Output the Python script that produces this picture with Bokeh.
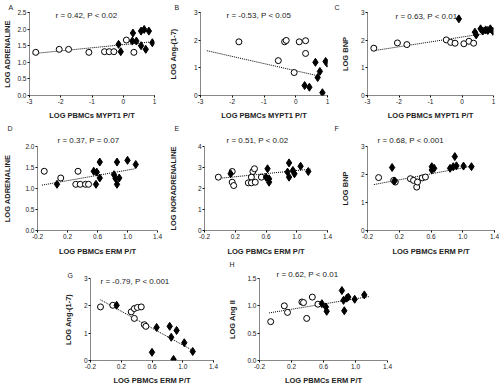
from bokeh.plotting import figure
from bokeh.layouts import row, column, Spacer
from bokeh.models import Range1d, FixedTicker, PrintfTickFormatter, Label, Title
from bokeh.embed import file_html
from bokeh.resources import INLINE

# ---------------- data ----------------
mypt_ticks = [-3, -2, -1, 0, 1]
erm_ticks = [-0.2, 0.2, 0.6, 1.0, 1.4]

a_open_x = [-2.8, -2.05, -1.75, -1.1, -0.6, -0.45, -0.3, 0.34, 0.1]
a_open_y = [1.30, 1.39, 1.39, 1.30, 1.32, 1.32, 1.32, 1.30, 1.67]
a_fill_x = [-0.15, -0.08, 0.31, 0.29, 0.42, 0.57, 0.67, 0.82, 0.57, 0.72, 0.93]
a_fill_y = [1.54, 1.32, 1.88, 1.64, 1.64, 1.94, 1.99, 1.94, 1.50, 1.39, 1.59]
a_fit_x = [-2.9, 0.95]
a_fit_y = [1.26, 1.62]

b_open_x = [-1.79, -0.55, -0.35, -0.3, -0.05, 0.11, 0.31, 0.31]
b_open_y = [1.94, 1.26, 1.94, 1.99, 0.83, 1.94, 1.98, 1.52]
b_fill_x = [0.62, 0.76, 0.69, 0.94, 0.99, 0.28, 0.43, 0.84]
b_fill_y = [1.20, 0.87, 0.65, 1.23, 1.17, 0.36, 0.30, 0.10]
b_fit_x = [-2.8, 0.75]
b_fit_y = [1.62, 0.70]

c_open_x = [-2.8, -2.05, -1.75, -0.5, -0.36, -0.22, 0.06, 0.22, 0.37]
c_open_y = [1.71, 1.90, 1.84, 2.01, 1.92, 1.89, 1.87, 1.96, 1.89]
c_fill_x = [-0.1, 0.41, 0.59, 0.75, 0.9, 0.98, 0.45, 0.66, 0.82]
c_fill_y = [2.77, 2.29, 2.41, 2.37, 2.41, 2.32, 2.19, 2.33, 2.35]
c_fit_x = [-2.8, 0.95]
c_fit_y = [1.62, 2.28]

d_open_x = [-0.11, 0.11, 0.34, 0.31, 0.37, 0.44, 0.48]
d_open_y = [1.41, 1.25, 1.41, 1.10, 1.10, 1.10, 1.10]
d_fill_x = [0.06, 0.55, 0.59, 0.58, 0.63, 0.63, 0.86, 0.82, 0.84, 0.89, 0.86, 1.0, 1.11]
d_fill_y = [1.10, 1.41, 1.39, 1.10, 1.25, 1.63, 1.63, 1.33, 1.24, 1.25, 1.10, 1.67, 1.57]
d_fit_x = [-0.14, 1.1]
d_fit_y = [1.08, 1.47]

e_open_x = [-0.02, 0.16, 0.16, 0.18, 0.41, 0.43, 0.45, 0.37, 0.41, 0.46, 0.54]
e_open_y = [2.54, 2.81, 2.30, 2.14, 2.54, 2.81, 2.94, 2.27, 2.27, 2.30, 2.54]
e_fill_x = [0.14, 0.6, 0.64, 0.62, 0.64, 0.88, 0.9, 0.95, 0.97, 0.9, 1.05, 1.15]
e_fill_y = [2.70, 2.54, 2.46, 2.94, 2.30, 2.78, 2.54, 2.86, 2.70, 3.22, 3.06, 2.81]
e_fit_x = [-0.02, 1.18]
e_fit_y = [2.48, 2.92]

f_open_x = [-0.06, 0.13, 0.15, 0.34, 0.38, 0.42, 0.43, 0.49, 0.53]
f_open_y = [1.89, 1.79, 1.73, 1.85, 1.79, 1.55, 1.73, 1.88, 1.91]
f_fill_x = [0.11, 0.14, 0.61, 0.64, 0.61, 0.84, 0.88, 0.92, 0.9, 1.01, 1.11]
f_fill_y = [2.25, 1.77, 2.28, 2.22, 2.16, 2.22, 2.28, 2.31, 2.64, 2.30, 2.28]
f_fit_x = [-0.12, 1.12]
f_fit_y = [1.64, 2.30]

g_open_x = [-0.07, 0.09, 0.33, 0.37, 0.41, 0.46, 0.37, 0.50, 0.52]
g_open_y = [1.96, 2.02, 1.78, 1.90, 1.94, 1.96, 1.54, 1.31, 1.25]
g_fill_x = [0.14, 0.66, 0.60, 0.83, 0.92, 0.85, 1.02, 1.13, 0.88]
g_fill_y = [2.02, 1.21, 0.30, 1.25, 1.10, 0.85, 0.65, 0.33, 0.04]
g_fit_x = [-0.07, 1.14]
g_fit_y = [2.22, 0.35]

h_open_x = [-0.06, 0.11, 0.15, 0.33, 0.46, 0.39, 0.35, 0.53]
h_open_y = [0.71, 1.00, 0.88, 1.07, 1.16, 0.77, 1.06, 1.03]
h_fill_x = [0.58, 0.63, 0.64, 0.83, 0.85, 0.89, 0.91, 0.86, 0.99, 1.11]
h_fill_y = [1.04, 0.98, 0.90, 1.28, 1.10, 1.14, 1.16, 0.91, 1.12, 1.20]
h_fit_x = [-0.08, 1.17]
h_fit_y = [0.87, 1.17]

# ---------------- layout helpers ----------------
FONT = "Liberation Sans"
TXT = "#222222"


def panel(letter, fig, frame, xr, yr, xticks, yticks, xfmt, yfmt, xlabel, ylabel,
          stat, stat_pos, stat_mode, letter_x, letter_standoff, ylab_standoff, xlab_standoff,
          ox, oy, fx, fy, lx, ly):
    fx0, fy0, fx1, fy1 = fig
    L, T, R, B = frame
    p = figure(width=fx1 - fx0, height=fy1 - fy0,
               x_range=Range1d(*xr), y_range=Range1d(*yr),
               output_backend="svg", toolbar_location=None,
               min_border_left=L - fx0, min_border_right=fx1 - R,
               min_border_top=T - fy0, min_border_bottom=fy1 - B)
    p.outline_line_color = None
    p.background_fill_color = "white"
    p.border_fill_color = "white"
    p.grid.visible = False
    for ax, ticks, fmt in ((p.xaxis, xticks, xfmt), (p.yaxis, yticks, yfmt)):
        ax.ticker = FixedTicker(ticks=ticks)
        ax.formatter = PrintfTickFormatter(format=fmt)
        ax.minor_tick_line_color = None
        ax.major_tick_in = 0
        ax.major_tick_out = 2
        ax.major_label_standoff = 1
        ax.major_label_text_font = FONT
        ax.major_label_text_font_size = "6.5px"
        ax.major_label_text_color = TXT
        ax.axis_line_color = "#111111"
        ax.axis_line_dash = "1 1"
        ax.major_tick_line_color = "#111111"
        ax.axis_label_text_font = FONT
        ax.axis_label_text_font_size = "7.5px"
        ax.axis_label_text_font_style = "bold"
        ax.axis_label_text_color = TXT
    p.xaxis.axis_label = xlabel
    p.yaxis.axis_label = ylabel
    p.xaxis.axis_label_standoff = xlab_standoff
    p.yaxis.axis_label_standoff = ylab_standoff

    p.line(lx, ly, line_color="black", line_width=1, line_dash="1 1")
    p.scatter(ox, oy, marker="circle", size=6, fill_color="white",
              line_color="black", line_width=1)
    p.scatter(fx, fy, marker="diamond", size=8, fill_color="black",
              line_color="black")

    if stat_mode == "inside":
        p.add_layout(Label(x=stat_pos[0] - L, y=B - stat_pos[1],
                           x_units="screen", y_units="screen", text=stat,
                           text_font=FONT, text_font_size="8px", text_color=TXT,
                           text_baseline="middle", text_align="left"))
    else:
        p.add_layout(Title(text=stat, align="left", offset=stat_pos[0] - L,
                           standoff=stat_pos[2], text_font=FONT, text_font_size="8px",
                           text_font_style="normal", text_color=TXT), "above")
    p.add_layout(Title(text=letter, align="left", offset=letter_x - L,
                       standoff=letter_standoff, text_font=FONT, text_font_size="7px",
                       text_font_style="normal", text_color=TXT), "above")
    return p


XM = "LOG PBMCs MYPT1 P/T"
XE = "LOG PBMCs ERM P/T"

R1 = (0, 122)
R2 = (122, 258)
R3 = (258, 387)
C1, C2, C3 = 165, 333, 499

pA = panel("A", (0, R1[0], C1, R1[1]), (24, 12, 154, 96), (-3, 1), (0, 2.5), mypt_ticks,
           [0, 0.5, 1.0, 1.5, 2.0, 2.5], "%d", "%.1f", XM, "LOG ADRENALINE",
           "r = 0.42, P < 0.02", (50, 16), "inside", 3, 3, 2, 4,
           a_open_x, a_open_y, a_fill_x, a_fill_y, a_fit_x, a_fit_y)
pB = panel("B", (C1, R1[0], C2, R1[1]), (194, 12, 327, 96), (-3, 1), (0, 3), mypt_ticks,
           [0, 1, 2, 3], "%d", "%d", XM, "LOG Ang-(1-7)",
           "r = -0.53, P < 0.05", (220, 16), "inside", 168, 3, 13, 4,
           b_open_x, b_open_y, b_fill_x, b_fill_y, b_fit_x, b_fit_y)
pC = panel("C", (C2, R1[0], C3, R1[1]), (367, 12, 493, 95), (-3, 1), (0, 3), mypt_ticks,
           [0, 1, 2, 3], "%d", "%d", XM, "LOG BNP",
           "r = 0.63, P < 0.01", (395, 16), "inside", 334, 3, 8, 4,
           c_open_x, c_open_y, c_fill_x, c_fill_y, c_fit_x, c_fit_y)
pD = panel("D", (0, R2[0], C1, R2[1]), (32, 146, 157, 230), (-0.2, 1.4), (0, 2.0), erm_ticks,
           [0, 0.5, 1.0, 1.5, 2.0], "%.1f", "%.1f", XE, "LOG ADRENALINE",
           "r = 0.37, P = 0.07", (52, 136, 4), "title", 2, 0, 10, 5,
           d_open_x, d_open_y, d_fill_x, d_fill_y, d_fit_x, d_fit_y)
pE = panel("E", (C1, R2[0], C2, R2[1]), (198, 146, 327, 230), (-0.2, 1.4), (0, 4), erm_ticks,
           [0, 1, 2, 3, 4], "%.1f", "%d", XE, "LOG NORADRENALINE",
           "r = 0.51, P < 0.02", (220, 136, 4), "title", 168, 0, 17, 5,
           e_open_x, e_open_y, e_fill_x, e_fill_y, e_fit_x, e_fit_y)
pF = panel("F", (C2, R2[0], C3, R2[1]), (367, 146, 494, 230), (-0.2, 1.4), (0, 3), erm_ticks,
           [0, 1, 2, 3], "%.1f", "%d", XE, "LOG BNP",
           "r = 0.68, P < 0.001", (377, 136, 4), "title", 334, 0, 8, 5,
           f_open_x, f_open_y, f_fill_x, f_fill_y, f_fit_x, f_fit_y)
pG = panel("G", (60, R3[0], 225, R3[1]), (87, 277, 213, 362), (-0.2, 1.4), (0, 3), erm_ticks,
           [0, 1, 2, 3], "%.1f", "%d", XE, "LOG Ang-(1-7)",
           "r = -0.79, P < 0.001", (97, 283), "inside", 64, 0, 8, 4,
           g_open_x, g_open_y, g_fill_x, g_fill_y, g_fit_x, g_fit_y)
pH = panel("H", (225, R3[0], 400, R3[1]), (256, 277, 387, 362), (-0.2, 1.4), (0, 1.5), erm_ticks,
           [0, 0.5, 1.0, 1.5], "%.1f", "%.1f", XE, "LOG Ang II",
           "r = 0.62, P < 0.01", (273, 272, 0), "title", 226, 0, 7, 4,
           h_open_x, h_open_y, h_fill_x, h_fill_y, h_fit_x, h_fit_y)

layout = column(
    row(pA, pB, pC),
    row(pD, pE, pF),
    row(Spacer(width=60, height=R3[1] - R3[0]), pG, pH),
)

open("out.html", "w").write(file_html(layout, INLINE))
